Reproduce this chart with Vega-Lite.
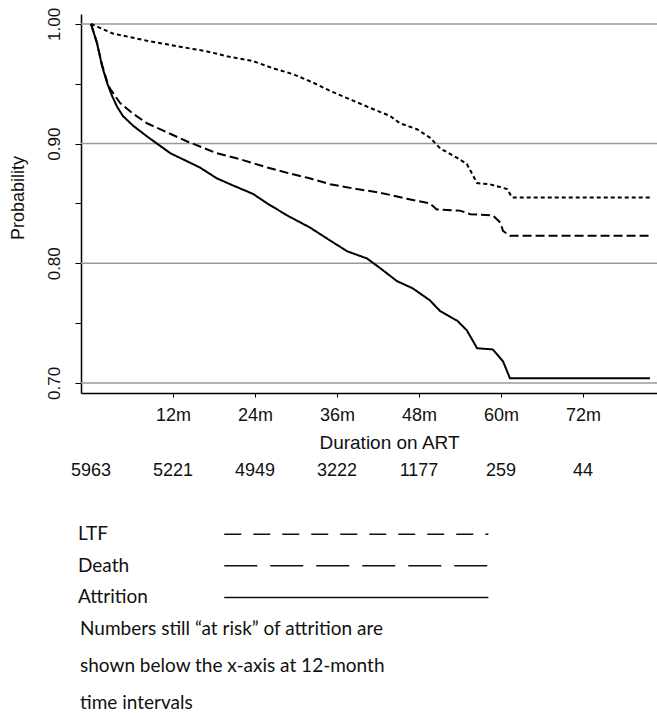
{
  "$schema": "https://vega.github.io/schema/vega-lite/v6.json",
  "padding": {"left": 9, "top": 7, "right": 0, "bottom": 0},
  "background": "white",
  "config": {"view": {"stroke": null}, "font": "Liberation Sans"},
  "spacing": 78,
  "bounds": "flush",
  "resolve": {"scale": {"strokeDash": "independent"}},
  "vconcat": [
    {
      "width": 576,
      "height": 379,
      "layer": [
        {
          "data": {"values": [{"prob": 0.7}, {"prob": 0.8}, {"prob": 0.9}, {"prob": 1.0}]},
          "mark": {"type": "rule", "color": "#9a9a9a", "strokeWidth": 1.5},
          "encoding": {
            "y": {"field": "prob", "type": "quantitative", "scale": {"domain": [0.6916, 1.0083], "nice": false, "zero": false}}
          }
        },
        {
          "data": {"values": [
            {"s": "Attrition", "m": 0, "prob": 1.0},
            {"s": "Attrition", "m": 0.88, "prob": 0.984},
            {"s": "Attrition", "m": 1.61, "prob": 0.965},
            {"s": "Attrition", "m": 2.34, "prob": 0.951},
            {"s": "Attrition", "m": 3.07, "prob": 0.940},
            {"s": "Attrition", "m": 3.8, "prob": 0.931},
            {"s": "Attrition", "m": 4.68, "prob": 0.923},
            {"s": "Attrition", "m": 6.15, "prob": 0.915},
            {"s": "Attrition", "m": 8.2, "prob": 0.906},
            {"s": "Attrition", "m": 9.66, "prob": 0.900},
            {"s": "Attrition", "m": 11.6, "prob": 0.892},
            {"s": "Attrition", "m": 15.95, "prob": 0.880},
            {"s": "Attrition", "m": 18.4, "prob": 0.871},
            {"s": "Attrition", "m": 20.8, "prob": 0.865},
            {"s": "Attrition", "m": 23.7, "prob": 0.858},
            {"s": "Attrition", "m": 25.8, "prob": 0.850},
            {"s": "Attrition", "m": 28.7, "prob": 0.840},
            {"s": "Attrition", "m": 32.0, "prob": 0.830},
            {"s": "Attrition", "m": 35.0, "prob": 0.819},
            {"s": "Attrition", "m": 37.5, "prob": 0.810},
            {"s": "Attrition", "m": 40.4, "prob": 0.804},
            {"s": "Attrition", "m": 42.3, "prob": 0.796},
            {"s": "Attrition", "m": 44.8, "prob": 0.785},
            {"s": "Attrition", "m": 47.1, "prob": 0.779},
            {"s": "Attrition", "m": 49.6, "prob": 0.769},
            {"s": "Attrition", "m": 51.1, "prob": 0.760},
            {"s": "Attrition", "m": 53.6, "prob": 0.752},
            {"s": "Attrition", "m": 55.0, "prob": 0.744},
            {"s": "Attrition", "m": 56.5, "prob": 0.729},
            {"s": "Attrition", "m": 58.8, "prob": 0.728},
            {"s": "Attrition", "m": 60.3, "prob": 0.718},
            {"s": "Attrition", "m": 61.3, "prob": 0.704},
            {"s": "Attrition", "m": 81.8, "prob": 0.704},
            {"s": "LTF", "m": 0, "prob": 1.0},
            {"s": "LTF", "m": 0.88, "prob": 0.984},
            {"s": "LTF", "m": 1.61, "prob": 0.966},
            {"s": "LTF", "m": 2.34, "prob": 0.952},
            {"s": "LTF", "m": 2.78, "prob": 0.946},
            {"s": "LTF", "m": 4.24, "prob": 0.934},
            {"s": "LTF", "m": 6.15, "prob": 0.925},
            {"s": "LTF", "m": 8.2, "prob": 0.917},
            {"s": "LTF", "m": 10.5, "prob": 0.911},
            {"s": "LTF", "m": 14.0, "prob": 0.902},
            {"s": "LTF", "m": 18.4, "prob": 0.892},
            {"s": "LTF", "m": 21.8, "prob": 0.887},
            {"s": "LTF", "m": 25.8, "prob": 0.880},
            {"s": "LTF", "m": 29.1, "prob": 0.875},
            {"s": "LTF", "m": 32.0, "prob": 0.871},
            {"s": "LTF", "m": 35.0, "prob": 0.866},
            {"s": "LTF", "m": 38.9, "prob": 0.862},
            {"s": "LTF", "m": 42.3, "prob": 0.859},
            {"s": "LTF", "m": 46.2, "prob": 0.854},
            {"s": "LTF", "m": 49.6, "prob": 0.850},
            {"s": "LTF", "m": 50.6, "prob": 0.845},
            {"s": "LTF", "m": 54.0, "prob": 0.844},
            {"s": "LTF", "m": 55.5, "prob": 0.841},
            {"s": "LTF", "m": 58.8, "prob": 0.840},
            {"s": "LTF", "m": 59.9, "prob": 0.834},
            {"s": "LTF", "m": 60.3, "prob": 0.827},
            {"s": "LTF", "m": 61.3, "prob": 0.823},
            {"s": "LTF", "m": 81.8, "prob": 0.823},
            {"s": "Death", "m": 0, "prob": 1.0},
            {"s": "Death", "m": 3.2, "prob": 0.992},
            {"s": "Death", "m": 8.2, "prob": 0.986},
            {"s": "Death", "m": 11.1, "prob": 0.983},
            {"s": "Death", "m": 14.0, "prob": 0.980},
            {"s": "Death", "m": 17.0, "prob": 0.977},
            {"s": "Death", "m": 19.9, "prob": 0.973},
            {"s": "Death", "m": 23.7, "prob": 0.969},
            {"s": "Death", "m": 26.6, "prob": 0.963},
            {"s": "Death", "m": 29.6, "prob": 0.958},
            {"s": "Death", "m": 32.5, "prob": 0.951},
            {"s": "Death", "m": 35.0, "prob": 0.944},
            {"s": "Death", "m": 37.9, "prob": 0.937},
            {"s": "Death", "m": 40.8, "prob": 0.930},
            {"s": "Death", "m": 43.8, "prob": 0.923},
            {"s": "Death", "m": 45.2, "prob": 0.917},
            {"s": "Death", "m": 47.7, "prob": 0.912},
            {"s": "Death", "m": 49.6, "prob": 0.905},
            {"s": "Death", "m": 51.1, "prob": 0.896},
            {"s": "Death", "m": 53.6, "prob": 0.888},
            {"s": "Death", "m": 55.0, "prob": 0.883},
            {"s": "Death", "m": 56.5, "prob": 0.867},
            {"s": "Death", "m": 58.4, "prob": 0.866},
            {"s": "Death", "m": 60.9, "prob": 0.862},
            {"s": "Death", "m": 61.6, "prob": 0.855},
            {"s": "Death", "m": 81.8, "prob": 0.855}
          ]},
          "mark": {"type": "line", "color": "black", "strokeWidth": 2, "interpolate": "linear"},
          "encoding": {
            "x": {
              "field": "m", "type": "quantitative",
              "scale": {"domain": [-1.463, 82.83], "nice": false, "zero": false},
              "axis": {
                "values": [12, 24, 36, 48, 60, 72],
                "labelExpr": "datum.value + 'm'",
                "grid": false,
                "domainColor": "black", "domainWidth": 1.5,
                "tickColor": "black", "tickSize": 4, "tickWidth": 1,
                "labelFont": "Liberation Sans", "labelFontSize": 18, "labelColor": "#111",
                "labelPadding": 9, "labelBaseline": "top", "labelAlign": "center",
                "title": "Duration on ART",
                "titleFont": "Liberation Sans", "titleFontSize": 19, "titleFontWeight": "normal", "titleColor": "#111",
                "titleX": 308, "titleY": 49, "titleAlign": "center", "titleBaseline": "middle"
              }
            },
            "y": {
              "field": "prob", "type": "quantitative",
              "scale": {"domain": [0.6916, 1.0083], "nice": false, "zero": false},
              "axis": {
                "values": [0.7, 0.75, 0.8, 0.85, 0.9, 0.95, 1.0],
                "labelExpr": "indexof(['0.70','0.80','0.90','1.00'], format(datum.value, '.2f')) >= 0 ? format(datum.value, '.2f') : ''",
                "grid": false,
                "domainColor": "black", "domainWidth": 1.5,
                "tickColor": "black", "tickSize": 6, "tickWidth": 1,
                "labelFont": "Liberation Sans", "labelFontSize": 17, "labelColor": "#111",
                "labelAngle": 270, "labelAlign": "center", "labelBaseline": "bottom", "labelPadding": 12,
                "labelOverlap": false, "labelFlush": false,
                "title": "Probability",
                "titleFont": "Liberation Sans", "titleFontSize": 18, "titleFontWeight": "normal", "titleColor": "#111",
                "titleAngle": 270, "titleX": -62.5, "titleY": 183.5, "titleAlign": "center", "titleBaseline": "middle"
              }
            },
            "strokeDash": {
              "field": "s", "type": "nominal",
              "scale": {"domain": ["Death", "LTF", "Attrition"], "range": [[4, 3], [9, 4], [1, 0]]},
              "legend": null
            }
          }
        }
      ]
    },
    {
      "width": 576,
      "height": 158,
      "layer": [
        {
          "data": {"values": [
            {"month": 0, "n": 5963},
            {"month": 12, "n": 5221},
            {"month": 24, "n": 4949},
            {"month": 36, "n": 3222},
            {"month": 48, "n": 1177},
            {"month": 60, "n": 259},
            {"month": 72, "n": 44}
          ]},
          "mark": {"type": "text", "font": "Liberation Sans", "fontSize": 18, "align": "center", "baseline": "middle", "color": "#111"},
          "encoding": {
            "x": {"field": "month", "type": "quantitative", "scale": {"domain": [-1.463, 82.83], "nice": false, "zero": false}, "axis": null},
            "y": {"datum": "risk", "type": "nominal", "scale": {"type": "point", "domain": ["risk", "gap", "LTF", "Death", "Attrition", "notes"], "padding": 0}, "axis": null},
            "text": {"field": "n", "type": "nominal"}
          }
        },
        {
          "data": {"values": [{"series": "LTF"}, {"series": "Death"}, {"series": "Attrition"}]},
          "mark": {"type": "text", "font": "Lato", "fontSize": 19, "align": "left", "baseline": "middle", "color": "#111"},
          "encoding": {
            "x": {"datum": -1.902, "type": "quantitative"},
            "y": {"field": "series", "type": "nominal"},
            "text": {"field": "series", "type": "nominal"}
          }
        },
        {
          "data": {"values": [{"series": "LTF"}, {"series": "Death"}, {"series": "Attrition"}]},
          "mark": {"type": "rule", "color": "#111", "strokeWidth": 1.5},
          "encoding": {
            "x": {"datum": 19.5, "type": "quantitative"},
            "x2": {"datum": 58.15},
            "y": {"field": "series", "type": "nominal"},
            "strokeDash": {
              "field": "series", "type": "nominal",
              "scale": {"domain": ["LTF", "Death", "Attrition"], "range": [[17, 12], [33, 13], [1, 0]]},
              "legend": null
            }
          }
        },
        {
          "data": {"values": [{"note": "Numbers still “at risk” of attrition are\nshown below the x-axis at 12-month\ntime intervals"}]},
          "mark": {"type": "text", "font": "Lato", "fontSize": 19, "align": "left", "baseline": "middle", "lineBreak": "\n", "lineHeight": 37, "color": "#111"},
          "encoding": {
            "x": {"datum": -1.61, "type": "quantitative"},
            "y": {"datum": "notes", "type": "nominal"},
            "text": {"field": "note", "type": "nominal"}
          }
        }
      ]
    }
  ]
}
